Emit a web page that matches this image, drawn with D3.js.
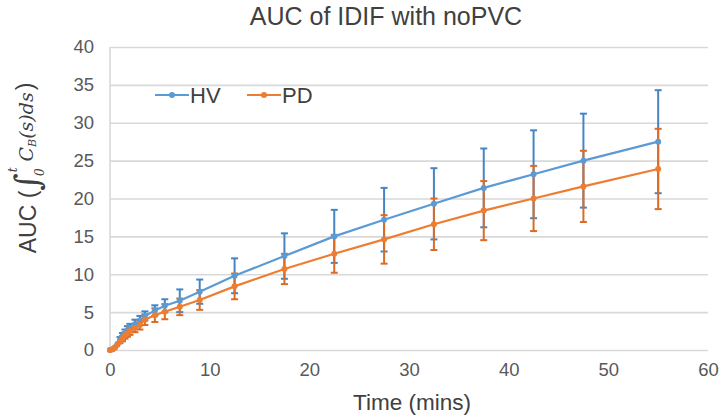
<!DOCTYPE html>
<html>
<head>
<meta charset="utf-8">
<script src="https://cdn.jsdelivr.net/npm/d3@7"></script>
<style>
  html, body { margin: 0; padding: 0; background: #fff; }
  svg { display: block; }
</style>
</head>
<body>
<svg id="chart" width="720" height="416"></svg>
<script>
// ---- data ----
const times = [0, 0.25, 0.5, 0.75, 1, 1.25, 1.5, 1.75, 2, 2.5, 3, 3.5, 4.5, 5.5, 7, 9, 12.5, 17.5, 22.5, 27.5, 32.5, 37.5, 42.5, 47.5, 55];
const hvValues = [0, 0.1, 0.35, 0.8, 1.3, 1.8, 2.2, 2.6, 2.9, 3.4, 3.9, 4.5, 5.2, 5.85, 6.5, 7.7, 9.8, 12.4, 15.0, 17.2, 19.3, 21.4, 23.2, 25.0, 27.5];
const hvErrors = [0, 0.05, 0.15, 0.3, 0.4, 0.45, 0.5, 0.55, 0.55, 0.6, 0.6, 0.6, 0.7, 0.85, 1.5, 1.6, 2.3, 3.0, 3.5, 4.2, 4.7, 5.2, 5.8, 6.2, 6.8];
const pdValues = [0, 0.1, 0.3, 0.7, 1.1, 1.5, 1.9, 2.2, 2.5, 2.9, 3.3, 4.0, 4.6, 5.06, 5.7, 6.6, 8.4, 10.7, 12.7, 14.6, 16.6, 18.4, 20.0, 21.6, 23.9];
const pdErrors = [0, 0.05, 0.1, 0.2, 0.3, 0.35, 0.4, 0.45, 0.5, 0.55, 0.6, 0.7, 0.9, 1.0, 1.1, 1.3, 1.7, 2.0, 2.5, 3.2, 3.4, 3.9, 4.3, 4.7, 5.3];
const seriesNames = ["HV", "PD"];
const xTicks = [0, 10, 20, 30, 40, 50, 60];
const yTicks = [0, 5, 10, 15, 20, 25, 30, 35, 40];
const titleText = "AUC of IDIF with noPVC";
const xLabel = "Time (mins)";

(function () {
// ---- layout ----
const svg = d3.select("#chart");
const pLeft = 110, pRight = 708, pTop = 47, pBottom = 350;
const x = d3.scaleLinear().domain([0, 60]).range([pLeft, pRight]);
const y = d3.scaleLinear().domain([0, 40]).range([pBottom, pTop]);
const colors = ["#5B9BD5", "#ED7D31"];
const errColors = ["#4585c6", "#dc6b25"];
const font = "'Liberation Sans', Arial, sans-serif";
const serif = "'DejaVu Serif', serif";

// gridlines via axis
const yGrid = d3.axisLeft(y).tickValues(yTicks).tickSize(-(pRight - pLeft)).tickFormat("");
svg.append("g").attr("transform", `translate(${pLeft},0)`).call(yGrid)
  .call(g => g.select(".domain").remove())
  .call(g => g.selectAll("line").attr("stroke", "#d9d9d9").attr("stroke-width", 1.6));

// left axis line
svg.append("line").attr("x1", pLeft).attr("x2", pLeft).attr("y1", pTop).attr("y2", pBottom)
  .attr("stroke", "#d9d9d9").attr("stroke-width", 1.6);

// y tick labels
const yAxis = d3.axisLeft(y).tickValues(yTicks).tickSize(0).tickPadding(16);
svg.append("g").attr("transform", `translate(${pLeft},0)`).call(yAxis)
  .call(g => g.select(".domain").remove())
  .call(g => g.selectAll("text").attr("font-family", font).attr("font-size", 18.5).attr("fill", "#595959"));

// x tick labels
const xAxis = d3.axisBottom(x).tickValues(xTicks).tickSize(0).tickPadding(13);
svg.append("g").attr("transform", `translate(0,${pBottom})`).call(xAxis)
  .call(g => g.select(".domain").remove())
  .call(g => g.selectAll("text").attr("font-family", font).attr("font-size", 18.5).attr("fill", "#595959"));

// title
svg.append("text").attr("x", 386).attr("y", 25).attr("text-anchor", "middle")
  .attr("font-family", font).attr("font-size", 25).attr("fill", "#404040").text(titleText);

// x label
svg.append("text").attr("x", 412).attr("y", 410).attr("text-anchor", "middle")
  .attr("font-family", font).attr("font-size", 22.5).attr("fill", "#404040").text(xLabel);

// y label (rotated, with integral)
const yl = svg.append("text").attr("transform", "translate(36,168) rotate(-90)")
  .attr("text-anchor", "middle").attr("font-family", font).attr("font-size", 23).attr("fill", "#404040");
yl.append("tspan").text("AUC (");
yl.append("tspan").attr("font-family", serif).attr("font-size", 34).attr("dy", 3).text("∫");
yl.append("tspan").attr("font-family", serif).attr("font-style", "italic").attr("font-size", 12).attr("dx", -3).attr("dy", 5).text("0");
yl.append("tspan").attr("font-family", serif).attr("font-style", "italic").attr("font-size", 12).attr("dx", -4).attr("dy", -27).text("t");
yl.append("tspan").attr("font-family", serif).attr("font-style", "italic").attr("font-size", 19).attr("dx", 6).attr("dy", 16).text("C");
yl.append("tspan").attr("font-family", serif).attr("font-style", "italic").attr("font-size", 11).attr("dy", 3).text("B");
yl.append("tspan").attr("font-family", serif).attr("font-style", "italic").attr("font-size", 19).attr("dy", -3).text("(s)ds");
yl.append("tspan").attr("font-size", 23).attr("dy", 0).attr("dx", 2).text(")");

// series
const series = [
  { name: seriesNames[0], values: hvValues, errors: hvErrors },
  { name: seriesNames[1], values: pdValues, errors: pdErrors }
];
const line = d3.line().x(d => x(d.t)).y(d => y(d.v));

series.forEach((s, i) => {
  const pts = times.map((t, j) => ({ t, v: s.values[j], e: s.errors[j] }));
  const g = svg.append("g");
  const eb = g.append("g").attr("stroke", errColors[i]).attr("stroke-width", 2);
  eb.selectAll("line.v").data(pts).join("line").attr("class", "v")
    .attr("x1", d => x(d.t)).attr("x2", d => x(d.t))
    .attr("y1", d => y(d.v - d.e)).attr("y2", d => y(d.v + d.e));
  eb.selectAll("line.top").data(pts.filter(d => d.e > 0.3)).join("line").attr("class", "top")
    .attr("x1", d => x(d.t) - 3.5).attr("x2", d => x(d.t) + 3.5)
    .attr("y1", d => y(d.v + d.e)).attr("y2", d => y(d.v + d.e));
  eb.selectAll("line.bot").data(pts.filter(d => d.e > 0.3)).join("line").attr("class", "bot")
    .attr("x1", d => x(d.t) - 3.5).attr("x2", d => x(d.t) + 3.5)
    .attr("y1", d => y(d.v - d.e)).attr("y2", d => y(d.v - d.e));
});

series.forEach((s, i) => {
  const pts = times.map((t, j) => ({ t, v: s.values[j] }));
  const g = svg.append("g");
  g.append("path").datum(pts).attr("d", line).attr("fill", "none")
    .attr("stroke", colors[i]).attr("stroke-width", 2.2);
  g.selectAll("circle").data(pts).join("circle")
    .attr("cx", d => x(d.t)).attr("cy", d => y(d.v)).attr("r", 3)
    .attr("fill", colors[i]);
});

// legend
const legendItems = [
  { name: seriesNames[0], x0: 155 },
  { name: seriesNames[1], x0: 247 }
];
legendItems.forEach((it, i) => {
  const g = svg.append("g");
  g.append("line").attr("x1", it.x0).attr("x2", it.x0 + 34).attr("y1", 95).attr("y2", 95)
    .attr("stroke", colors[i]).attr("stroke-width", 2.2);
  g.append("circle").attr("cx", it.x0 + 17).attr("cy", 95).attr("r", 3).attr("fill", colors[i]);
  g.append("text").attr("x", it.x0 + 35).attr("y", 103).attr("font-family", font)
    .attr("font-size", 22).attr("fill", "#404040").text(it.name);
});
})();
</script>
</body>
</html>
